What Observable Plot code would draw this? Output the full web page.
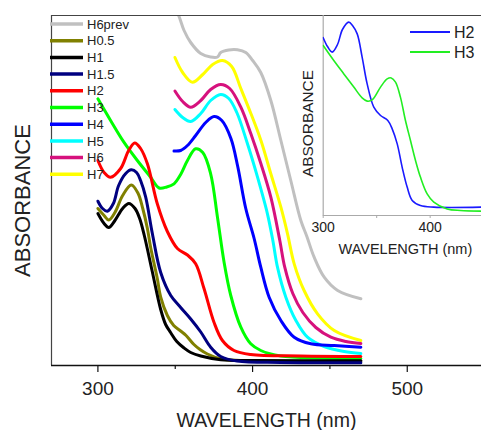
<!DOCTYPE html>
<html><head><meta charset="utf-8">
<script src="https://cdn.jsdelivr.net/npm/d3@7"></script>
<script src="https://cdn.jsdelivr.net/npm/@observablehq/plot@0.6"></script>
<style>
html,body{margin:0;padding:0;background:#fff;}
#wrap{position:relative;width:481px;height:430px;overflow:hidden;font-family:"Liberation Sans",Arial,sans-serif;}
#main{position:absolute;left:0;top:0;}
#inset{position:absolute;left:290px;top:0;}
</style></head>
<body><div id="wrap"><div id="main"></div><div id="inset"></div></div>
<script>
// ---- main chart data: [wavelength nm, absorbance (arb.)] ----
const H6prev = [[349.8,3.57],[352.2,3.50],[355.7,3.35],[360,3.23],[366.5,3.12],[372.9,3.085],[377.3,3.085],[379.4,3.13],[384.6,3.155],[390.2,3.157],[395.6,3.13],[400.1,3.05],[405.3,2.93],[411.8,2.65],[418.3,2.25],[424.7,1.85],[431.2,1.45],[435.1,1.29],[439.8,1.083],[446.3,0.883],[455,0.75],[470,0.667]];
const H05 = [[300,1.57],[304,1.50],[307,1.455],[311,1.53],[316,1.70],[321.6,1.805],[326,1.72],[329,1.57],[332,1.37],[334.1,1.18],[338.4,0.87],[340.6,0.683],[344.9,0.50],[349,0.40],[353.5,0.345],[357,0.30],[362.1,0.21],[366,0.16],[370.8,0.115],[379.4,0.067],[392,0.05],[470,0.045]];
const H1 = [[300,1.52],[304,1.42],[307,1.38],[311,1.45],[316,1.57],[320,1.62],[324,1.57],[327,1.47],[330,1.30],[335,0.95],[340.6,0.56],[343.8,0.41],[347,0.33],[351,0.24],[355.7,0.175],[360,0.13],[366.5,0.095],[379.4,0.058],[400,0.05],[470,0.048]];
const H15 = [[300,1.643],[303,1.57],[306.1,1.543],[310,1.62],[313.4,1.80],[318,1.92],[321.6,1.957],[325,1.93],[327.6,1.85],[330.9,1.683],[335.2,1.32],[340.6,0.93],[347.1,0.70],[353.5,0.58],[360,0.465],[366.5,0.335],[372.9,0.183],[379.4,0.09],[390,0.045],[418,0.03],[470,0.028]];
const H2 = [[300,2.05],[304,1.93],[308.2,1.883],[314.7,1.97],[319.9,2.15],[323.8,2.225],[327.6,2.17],[332,2.017],[338.4,1.617],[344.9,1.34],[351.4,1.17],[357.9,1.105],[363.2,1.017],[368.6,0.77],[375.1,0.43],[380.5,0.25],[388,0.15],[398.8,0.11],[431,0.095],[470,0.09]];
const H3 = [[300,2.667],[308.2,2.45],[316.8,2.233],[325.5,2.05],[334.1,1.883],[339.6,1.775],[344.5,1.785],[349.2,1.817],[353.5,1.91],[357.9,2.05],[363.2,2.167],[367.8,2.13],[372.9,1.917],[377.3,1.483],[381.6,1.03],[385.9,0.70],[392.4,0.383],[398.8,0.217],[405.3,0.15],[418.2,0.095],[444,0.075],[470,0.07]];
const H4 = [[349.2,2.145],[353.5,2.15],[357.9,2.20],[363.2,2.30],[369.7,2.43],[375.1,2.49],[380.1,2.45],[386,2.27],[390.4,1.99],[395.6,1.57],[401,1.27],[405.3,0.983],[410.7,0.683],[418.3,0.45],[426.9,0.283],[437.7,0.217],[452.8,0.20],[470,0.183]];
const H5 = [[349.8,2.56],[354.8,2.48],[360,2.44],[366.5,2.52],[372.9,2.65],[379.4,2.71],[384.6,2.67],[389.8,2.53],[396.7,2.217],[403.2,1.883],[409.6,1.517],[413.1,1.25],[416.1,0.983],[421.5,0.683],[428,0.45],[435.5,0.283],[446.3,0.19],[459.2,0.14],[470,0.12]];
const H6 = [[349.8,2.745],[354.8,2.64],[360,2.583],[366.5,2.65],[372.9,2.76],[379.4,2.81],[385.2,2.77],[392.4,2.583],[398.9,2.317],[405.4,2.017],[411.8,1.683],[417.6,1.25],[420.8,0.983],[426,0.72],[432.5,0.53],[440.9,0.38],[450.6,0.283],[460.3,0.24],[470,0.22]];
const H7 = [[349.8,3.08],[354.8,2.93],[361.1,2.833],[367.8,2.91],[374.2,3.01],[380.5,3.05],[386.5,2.99],[392.4,2.77],[398.9,2.52],[405.4,2.25],[411.8,1.917],[418.3,1.583],[422.6,1.317],[426.9,1.017],[433.3,0.75],[442,0.517],[452.8,0.35],[470,0.25]];

const seriesNames = ["H6prev","H0.5","H1","H1.5","H2","H3","H4","H5","H6","H7"];
const seriesData  = [H6prev, H05, H1, H15, H2, H3, H4, H5, H6, H7];
const seriesColors = ["#c0c0c0","#808000","#000000","#000080","#ff0000","#00ff00","#0000ff","#00ffff","#d6117d","#ffff00"];
const drawOrder = ["H6prev","H7","H6","H5","H4","H3","H2","H0.5","H1","H1.5"];

const xMajorTicks = [300, 400, 500];
const xMinorTicks = [350, 450];

// ---- inset data ----
const insetH2 = [[300,0.889],[304,0.845],[308.4,0.817],[313.4,0.855],[318,0.93],[323.9,0.967],[327.4,0.95],[331.8,0.908],[336.4,0.792],[341.1,0.658],[347.3,0.542],[353.6,0.50],[360.4,0.475],[364.5,0.433],[369.2,0.358],[373.8,0.242],[378.5,0.142],[383.2,0.075],[390.9,0.05],[403.4,0.042],[448,0.042]];
const insetH3 = [[300,0.85],[309.9,0.775],[319.3,0.708],[328.6,0.642],[336.4,0.588],[341.1,0.572],[345.8,0.578],[353.6,0.642],[359.8,0.683],[363.6,0.688],[367.6,0.667],[372.2,0.592],[376.9,0.475],[381.6,0.375],[386.3,0.275],[390.9,0.192],[397.2,0.108],[403.4,0.067],[415.9,0.033],[428.3,0.025],[447,0.022]];
const insetNames = ["H2","H3"];
const insetColors = ["#1a1aff","#22ee22"];
const insetMajorTicks = [300, 400];
const insetMinorTicks = [350];

const font = '"Liberation Sans", Arial, sans-serif';

const rows = [];
drawOrder.forEach(n => {
  const d = seriesData[seriesNames.indexOf(n)];
  d.forEach(([wl, a]) => rows.push({series: n, wl, a}));
});

const main = Plot.plot({
  width: 481, height: 430,
  marginLeft: 51, marginRight: 0, marginTop: 15, marginBottom: 65,
  style: {fontFamily: font, background: "transparent", overflow: "visible", color: "#222"},
  x: {domain: [270, 548]},
  y: {domain: [0, 3.5], axis: null},
  color: {domain: seriesNames, range: seriesColors},
  marks: [
    Plot.line(rows, {x: "wl", y: "a", z: "series", stroke: "series", strokeWidth: 3, curve: "catmull-rom", clip: true}),
    Plot.ruleX([270], {stroke: "#444", strokeWidth: 1.2}),
    Plot.ruleY([3.5], {stroke: "#444", strokeWidth: 1.2}),
    Plot.ruleY([0], {stroke: "#111", strokeWidth: 1.4}),
    Plot.axisX({ticks: xMajorTicks, tickSize: 7, tickPadding: 9, fontSize: 19, label: null, stroke: "#111", strokeWidth: 1.2, fill: "#222"}),
    Plot.axisX({ticks: xMinorTicks, tickSize: 4, tickFormat: () => "", label: null, stroke: "#111", strokeWidth: 1.2}),
    Plot.text(["WAVELENGTH (nm)"], {frameAnchor: "bottom", dy: 55, fontSize: 19.5, textAnchor: "middle", lineAnchor: "middle", fill: "#222"}),
    Plot.text(["ABSORBANCE"], {frameAnchor: "left", rotate: -90, dx: -29, dy: 10, fontSize: 22, textAnchor: "middle", lineAnchor: "middle", fill: "#222"})
  ]
});

// legend
const lg = d3.select(main).append("g").attr("font-family", font).attr("text-anchor", "start");
seriesNames.forEach((n, i) => {
  const y = 24 + i * 16.7;
  lg.append("line").attr("x1", 50).attr("x2", 83).attr("y1", y).attr("y2", y)
    .attr("stroke", seriesColors[i]).attr("stroke-width", 3.5);
  lg.append("text").attr("x", 87).attr("y", y).attr("dy", "0.36em").attr("text-anchor", "start")
    .attr("font-size", 13).attr("fill", "#222").text(n);
});
document.getElementById("main").appendChild(main);

// ---- inset ----
const irows = [];
[insetH2, insetH3].forEach((d, i) => d.forEach(([wl, a]) => irows.push({series: insetNames[i], wl, a})));

const inset = Plot.plot({
  width: 191, height: 265,
  marginLeft: 32.7, marginRight: 0, marginTop: 15, marginBottom: 50,
  style: {fontFamily: font, background: "transparent", overflow: "visible", color: "#222"},
  x: {domain: [300, 448]},
  y: {domain: [0, 1], axis: null},
  color: {domain: insetNames, range: insetColors},
  marks: [
    Plot.ruleX([300], {stroke: "#aaa", strokeWidth: 1.2}),
    Plot.ruleY([0], {stroke: "#aaa", strokeWidth: 1.2}),
    Plot.line(irows, {x: "wl", y: "a", z: "series", stroke: "series", strokeWidth: 1.6, curve: "catmull-rom", clip: true}),
    Plot.axisX({ticks: insetMajorTicks, tickSize: 3, tickPadding: 4, fontSize: 14, label: null, stroke: "#aaa", fill: "#222"}),
    Plot.axisX({ticks: insetMinorTicks, tickSize: 3, tickFormat: () => "", label: null, stroke: "#aaa"}),
    Plot.text(["WAVELENGTH (nm)"], {frameAnchor: "bottom", dy: 34, dx: 3, fontSize: 14.5, textAnchor: "middle", lineAnchor: "middle", fill: "#222"}),
    Plot.text(["ABSORBANCE"], {frameAnchor: "left", rotate: -90, dx: -15.2, dy: 8, fontSize: 15.4, textAnchor: "middle", lineAnchor: "middle", fill: "#222"})
  ]
});
const ilg = d3.select(inset).append("g").attr("font-family", font).attr("text-anchor", "start");
insetNames.forEach((n, i) => {
  const y = 32 + i * 20;
  ilg.append("line").attr("x1", 120).attr("x2", 160).attr("y1", y).attr("y2", y)
    .attr("stroke", insetColors[i]).attr("stroke-width", 2);
  ilg.append("text").attr("x", 164).attr("y", y).attr("dy", "0.36em").attr("text-anchor", "start")
    .attr("font-size", 16).attr("fill", "#222").text(n);
});
document.getElementById("inset").appendChild(inset);
</script>
</body></html>
